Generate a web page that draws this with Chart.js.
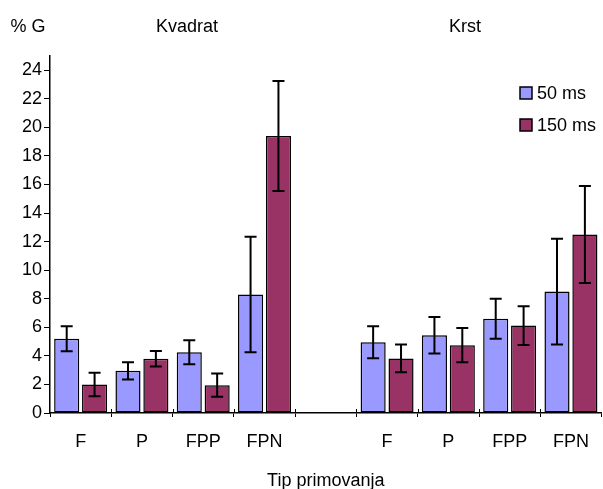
<!DOCTYPE html>
<html>
<head>
<meta charset="utf-8">
<script src="https://cdn.jsdelivr.net/npm/chart.js@4/dist/chart.umd.min.js"></script>
<style>
  html, body { margin: 0; padding: 0; background: #fff; }
  #wrap { width: 603px; height: 489px; }
</style>
</head>
<body>
<div id="wrap"><canvas id="c" width="603" height="489"></canvas></div>
<script>
// categories: Kvadrat group, empty gap, Krst group
const categories = ["F", "P", "FPP", "FPN", "", "F", "P", "FPP", "FPN"];
const seriesNames = ["50 ms", "150 ms"];
const values50 = [5.2, 2.95, 4.25, 8.3, null, 4.95, 5.45, 6.6, 8.5];
const values150 = [2.0, 3.8, 1.95, 19.4, null, 3.82, 4.75, 6.12, 12.5];
const err50 = [0.88, 0.6, 0.84, 4.05, null, 1.12, 1.28, 1.4, 3.7];
const err150 = [0.82, 0.55, 0.82, 3.85, null, 0.97, 1.2, 1.35, 3.4];
const groupTitles = ["Kvadrat", "Krst"];
const yTicks = [0, 2, 4, 6, 8, 10, 12, 14, 16, 18, 20, 22, 24];

const FONT = "'Liberation Sans', Arial, sans-serif";
const colors = ["#9999ff", "#993366"];

const errorBars = {
  id: "errorBars",
  afterDatasetsDraw(chart) {
    const ctx = chart.ctx;
    const y = chart.scales.y;
    const errs = [err50, err150];
    ctx.save();
    ctx.strokeStyle = "#000";
    ctx.lineWidth = 2;
    chart.data.datasets.forEach((ds, i) => {
      chart.getDatasetMeta(i).data.forEach((bar, j) => {
        const v = ds.data[j];
        if (v == null) return;
        const e = errs[i][j];
        const top = y.getPixelForValue(v + e);
        const bot = y.getPixelForValue(v - e);
        ctx.beginPath();
        ctx.moveTo(bar.x, top);
        ctx.lineTo(bar.x, bot);
        ctx.moveTo(bar.x - 6, top);
        ctx.lineTo(bar.x + 6, top);
        ctx.moveTo(bar.x - 6, bot);
        ctx.lineTo(bar.x + 6, bot);
        ctx.stroke();
      });
    });
    ctx.restore();
  }
};

const extraText = {
  id: "extraText",
  afterDraw(chart) {
    const ctx = chart.ctx;
    const x = chart.scales.x;
    ctx.save();
    // small marks above the x axis so the ticks cross it
    ctx.strokeStyle = "#000";
    ctx.lineWidth = 1;
    for (let i = 1; i < categories.length; i++) {
      const px = Math.round((x.getPixelForValue(i - 1) + x.getPixelForValue(i)) / 2) + 0.5;
      ctx.beginPath();
      ctx.moveTo(px, x.top - 4);
      ctx.lineTo(px, x.top);
      ctx.stroke();
    }
    ctx.fillStyle = "#000";
    ctx.font = "18px " + FONT;
    ctx.textBaseline = "middle";
    ctx.textAlign = "center";
    ctx.fillText("% G", 28, 27);
    ctx.fillText(groupTitles[0], 187, 27);
    ctx.fillText(groupTitles[1], 465, 27);
    // legend
    ctx.textAlign = "left";
    seriesNames.forEach((name, i) => {
      const cy = 93 + i * 32;
      ctx.fillStyle = colors[i];
      ctx.fillRect(520, cy - 6, 12, 12);
      ctx.strokeStyle = "#000";
      ctx.lineWidth = 1.5;
      ctx.strokeRect(520, cy - 6, 12, 12);
      ctx.fillStyle = "#000";
      ctx.fillText(name, 537, cy + 1);
    });
    ctx.restore();
  }
};

new Chart(document.getElementById("c"), {
  type: "bar",
  data: {
    labels: categories,
    datasets: [
      { label: seriesNames[0], data: values50, backgroundColor: colors[0] },
      { label: seriesNames[1], data: values150, backgroundColor: colors[1] }
    ]
  },
  options: {
    responsive: false,
    animation: false,
    devicePixelRatio: 1,
    layout: { padding: { top: 56, right: 1, left: 0, bottom: 0 } },
    datasets: {
      bar: {
        borderColor: "#000",
        borderWidth: 1.5,
        borderSkipped: false,
        categoryPercentage: 0.91,
        barPercentage: 0.9
      }
    },
    plugins: {
      legend: { display: false },
      tooltip: { enabled: false }
    },
    scales: {
      x: {
        grid: { offset: true, drawOnChartArea: false, tickLength: 4, color: "#000", lineWidth: 1 },
        border: { color: "#000", width: 1.5 },
        ticks: { color: "#000", font: { family: FONT, size: 18 }, padding: 14, maxRotation: 0 },
        title: { display: true, text: "Tip primovanja", color: "#000", font: { family: FONT, size: 18 }, padding: { top: 0, bottom: -3 } },
        afterFit(axis) { axis.height = 76; }
      },
      y: {
        min: 0,
        max: 25,
        afterBuildTicks(axis) { axis.ticks = yTicks.map(v => ({ value: v })); },
        grid: { drawOnChartArea: false, tickLength: 6, color: "#000", lineWidth: 1 },
        border: { color: "#000", width: 1.5 },
        ticks: { color: "#000", font: { family: FONT, size: 18 }, padding: 2 },
        afterFit(axis) { axis.width = 50; }
      }
    }
  },
  plugins: [errorBars, extraText]
});
</script>
</body>
</html>
